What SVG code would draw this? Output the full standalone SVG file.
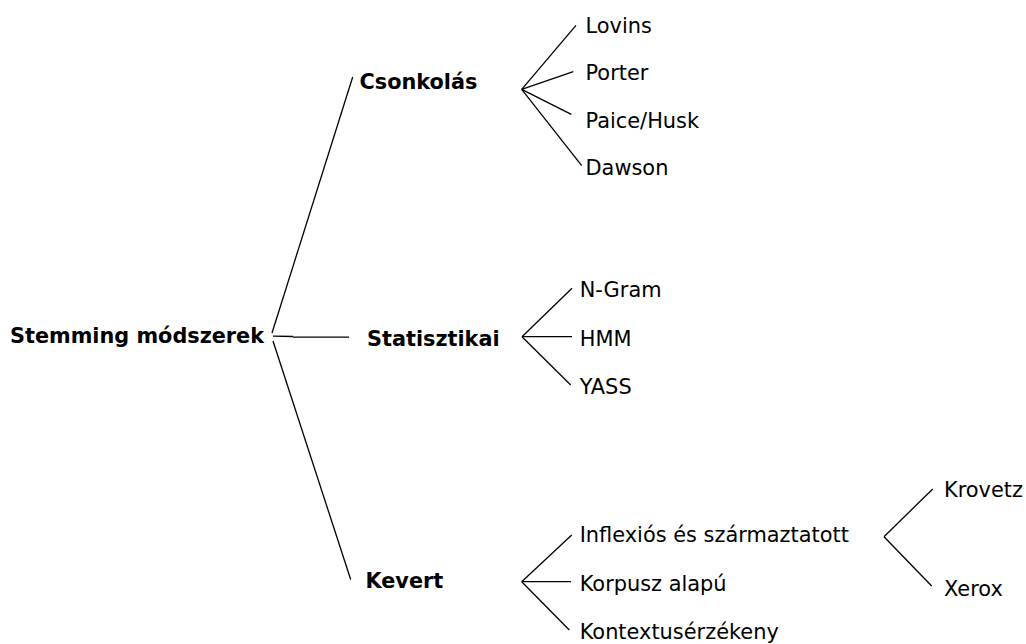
<svg xmlns="http://www.w3.org/2000/svg" width="1026" height="644" viewBox="0 0 1026 644">
  <style>
    .edge { stroke: #000; stroke-width: 1.3; fill: none; stroke-linecap: butt; }
    .root, .branch { font-family: "DejaVu Sans", sans-serif; font-weight: bold; font-size: 20.8px; fill: #000; }
    .leaf { font-family: "DejaVu Sans", sans-serif; font-size: 20.9px; fill: #000; }
  </style>
  <rect width="1026" height="644" fill="#fff"/>

  <!-- connectors -->
  <g id="connectors">
    <!-- root to categories -->
    <line class="edge" x1="272" y1="333" x2="352.7" y2="77"/>
    <line class="edge" x1="273" y1="336.2" x2="293" y2="336.5"/>
    <line class="edge" x1="293" y1="337.2" x2="349" y2="337.2"/>
    <line class="edge" x1="273" y1="341" x2="350.7" y2="579.5"/>
    <!-- Csonkolás -->
    <line class="edge" x1="521.7" y1="89.3" x2="576" y2="25.3"/>
    <line class="edge" x1="521.7" y1="89.3" x2="573.3" y2="71.7"/>
    <line class="edge" x1="521.7" y1="89.3" x2="571.3" y2="114.3"/>
    <line class="edge" x1="521.7" y1="89.3" x2="581.7" y2="165.7"/>
    <!-- Statisztikai -->
    <line class="edge" x1="522" y1="336.7" x2="572" y2="288.3"/>
    <line class="edge" x1="522" y1="336.7" x2="572" y2="336.7"/>
    <line class="edge" x1="522" y1="336.7" x2="570.7" y2="385"/>
    <!-- Kevert -->
    <line class="edge" x1="521.7" y1="581.7" x2="571.7" y2="535"/>
    <line class="edge" x1="521.7" y1="581.7" x2="571" y2="581.7"/>
    <line class="edge" x1="521.7" y1="581.7" x2="569.3" y2="630"/>
    <!-- Inflexiós és származtatott -->
    <line class="edge" x1="884" y1="536.7" x2="932.7" y2="489"/>
    <line class="edge" x1="884" y1="536.7" x2="931.7" y2="586"/>
  </g>

  <g id="root"><text class="root" x="10" y="343">Stemming módszerek</text></g>

  <g id="csonkolas"><text class="branch" x="359.5" y="89">Csonkolás</text></g>
  <g id="statisztikai"><text class="branch" x="367" y="346">Statisztikai</text></g>
  <g id="kevert"><text class="branch" x="365.5" y="587.5">Kevert</text></g>

  <g id="lovins"><text class="leaf" x="585.5" y="32.5">Lovins</text></g>
  <g id="porter"><text class="leaf" x="585.5" y="79.5">Porter</text></g>
  <g id="paice-husk"><text class="leaf" x="585.5" y="127.5">Paice/Husk</text></g>
  <g id="dawson"><text class="leaf" x="585.5" y="175">Dawson</text></g>

  <g id="n-gram"><text class="leaf" x="579.7" y="297">N-Gram</text></g>
  <g id="hmm"><text class="leaf" x="579.7" y="345.5">HMM</text></g>
  <g id="yass"><text class="leaf" x="579.7" y="393.5">YASS</text></g>

  <g id="inflexios"><text class="leaf" x="579.7" y="542">Inflexiós és származtatott</text></g>
  <g id="korpusz"><text class="leaf" x="579.7" y="590.5">Korpusz alapú</text></g>
  <g id="kontextus"><text class="leaf" x="579.7" y="639">Kontextusérzékeny</text></g>

  <g id="krovetz"><text class="leaf" x="944" y="497">Krovetz</text></g>
  <g id="xerox"><text class="leaf" x="944" y="595.5">Xerox</text></g>
</svg>
